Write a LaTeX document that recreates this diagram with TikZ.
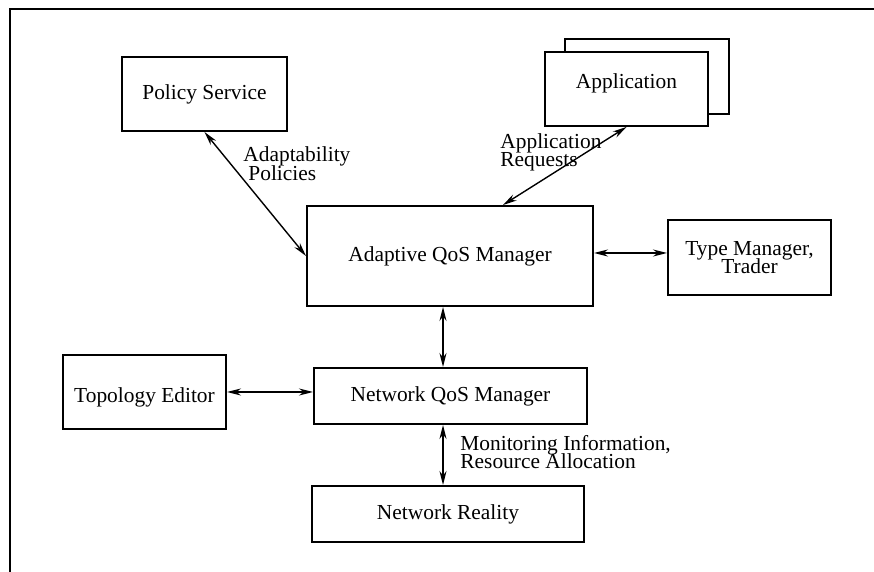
\documentclass[tikz,border=0pt]{standalone}
\usepackage{fontspec}
\setmainfont{Liberation Serif}
\usetikzlibrary{arrows.meta}
% tight two-line labels
\setlength{\lineskiplimit}{-20pt}
\begin{document}
\begin{tikzpicture}[x=0.5pt,y=-0.5pt,
  every node/.style={font=\fontsize{10.7}{9.2}\selectfont},
  box/.style={draw, line width=1pt, fill=white, inner sep=0pt, align=center},
  lbl/.style={inner sep=0pt, align=left, anchor=west},
  link/.style={line width=0.7pt, {Stealth[length=7pt,width=3.5pt]}-{Stealth[length=7pt,width=3.5pt]}}]
  \useasboundingbox (0,0) rectangle (874,572);
  % open frame: top and left rules only
  \coordinate (ftl) at (10,9);
  \coordinate (ftr) at (874,9);
  \coordinate (fbl) at (10,572);
  \draw[line width=1.4pt] (ftr) -- (ftl) -- (fbl);

  % boxes
  \node[box, minimum width=82.5pt, minimum height=37pt] (ps) at (204.5,94) {Policy Service};
  \node[box, minimum width=82pt, minimum height=37.5pt] (appb) at (647,76.5) {};
  \node[box, minimum width=81.5pt, minimum height=37pt, text depth=8pt] (app) at (626.5,89) {Application};
  \node[box, minimum width=143pt, minimum height=50pt] (aqm) at (450,256) {Adaptive QoS Manager};
  \node[box, minimum width=81.5pt, minimum height=37.5pt] (tm) at (749.5,257.5) {Type Manager,\\Trader};
  \node[box, minimum width=81.5pt, minimum height=37pt, text height=12.5pt] (te) at (144.5,392) {Topology Editor};
  \node[box, minimum width=136.5pt, minimum height=28pt] (nqm) at (450.5,396) {Network QoS Manager};
  \node[box, minimum width=136pt, minimum height=28pt] (nr) at (448,514) {Network Reality};

  % connector labels
  \node[lbl] (l1) at (243,163.5) {Adaptability\\\hspace{2.5pt}Policies};
  \node[lbl] (l2) at (500,152.5) {Application\\Requests};
  \node[lbl] (l3) at (460,452) {Monitoring Information,\\Resource Allocation};

  % connectors
  \draw[link] (ps.south) -- (aqm.west);
  \draw[link] (app.south) -- ([xshift=26.5pt]aqm.north);
  \draw[link] (aqm.east |- 0,253) -- (tm.west |- 0,253);
  \draw[link] ([xshift=-3.5pt]aqm.south) -- ([xshift=-3.5pt]aqm.south |- nqm.north);
  \draw[link] (te.east) -- (te.east -| nqm.west);
  \draw[link] ([xshift=-3.5pt]aqm.south |- nqm.south) -- ([xshift=-3.5pt]aqm.south |- nr.north);
\end{tikzpicture}
\end{document}
